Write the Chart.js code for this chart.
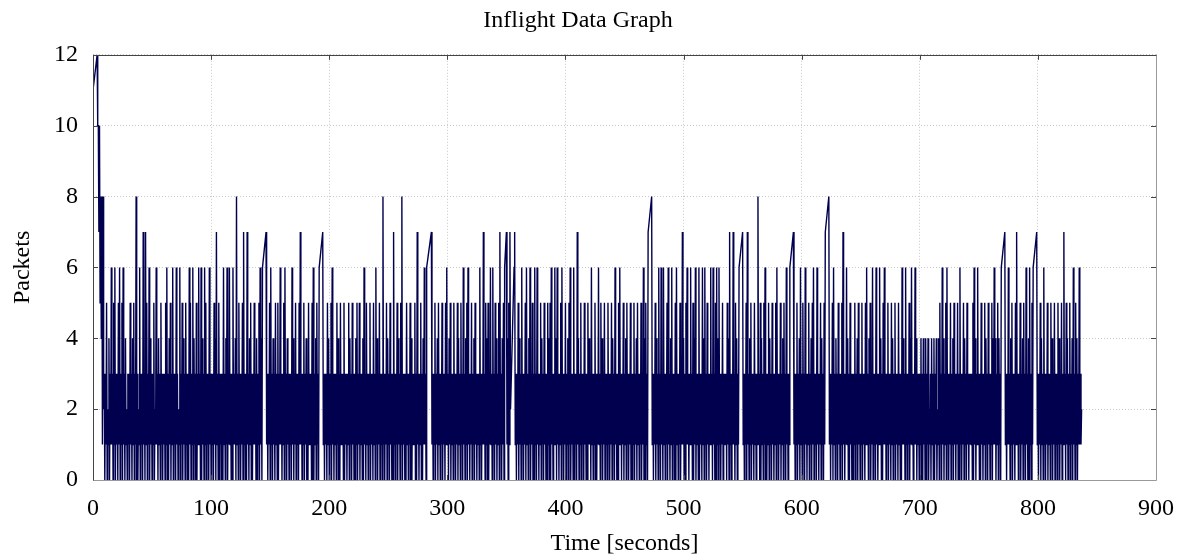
<!DOCTYPE html>
<html>
<head>
<meta charset="utf-8">
<script src="https://cdn.jsdelivr.net/npm/chart.js"></script>
<style>
  body { margin: 0; background: #fff; }
</style>
</head>
<body>
<canvas id="inflight" width="1194" height="558"></canvas>
<script>
/* ===============================
  Inflight data (packets in flight)
  each segment: samples every 0.5 s, one char per sample (hex digit, c = 12)
================================ */
const xTicks = [0, 100, 200, 300, 400, 500, 600, 700, 800, 900];
const yTicks = [0, 2, 4, 6, 8, 10, 12];
const sampleStep = 0.5;

// start time of each recorded segment (seconds); gaps between them are joined by the line
const segStarts = [0, 3.5, 146.5, 194.5, 286.5, 350, 356.5, 473, 550, 593, 623, 772, 799];

const seg0 = 'b';
const seg1 =
  'caa7a5848182' +
  '30315021403161305160' + '31305160315061304120' + '31305130415031803021' +
  '60313071307150316041' + '30315021613041305130' + '31305160304150316031' +
  '30613021603150413051' + '30306150316041305031' + '61306041306150313061' +
  '30313051407130503130' + '30613041603161303061' + '31408130513031507130' +
  '30713041503031513040' + '315061406';
const seg2 =
  '71303150613041305130' + '50316130315061304130' + '31306140315031305171' +
  '30315031403051313050' + '60314051306';
const seg3 =
  '71303130514031506130' + '31305140305131305031' + '30315041305130304150' +
  '31503130406130513031' + '50313051306140315031' + '30813031504130513030' +
  '71303150413051803130' + '30513031504031315030' + '71303150304161306';
const seg4 =
  '71303150314051303150' + '31305161304150313051' + '30315041305130613041' +
  '50613031503140513031' + '30613031713051405031' + '61306130514031507130' +
  '41506';
const seg5 = '71405172';
const seg6 =
  '6' +
  '71303150413061303150' + '61304160315030613061' + '30315041305130305140' +
  '50613031614061303150' + '61303150314051603130' + '60313071403150313051' +
  '30305141306130315030' + '31613051403150313051' + '30315041306130305161' +
  '30315031405130315030' + '31503140513031503160' + '4051307';
const seg7 =
  '81303150413061306130' + '61303150613041603130' + '50613031503171403051' +
  '61303161305041603130' + '60313061406130513031' + '61306130506140613031' +
  '50313130514071303171' + '305140316';
const seg8 =
  '71303150713041503130' + '51303181305041305160' + '30315041305130315061' +
  '30315031405130613031' + '6';
const seg9 =
  '71303150314061305130' + '61303150314051603130' + '613031504130517';
const seg10 =
  '81303150613041305130' + '31507130316140305130' + '30315031405130315031' +
  '30516130415031603130' + '61303161403051613031' + '50313051403150313051' +
  '30306141306130315041' + '61303161403130314030' + '41304031402130413040' +
  '31402140513061403150' + '61303150314051303150' + '30613031504130513031' +
  '31305061403161303051' + '30315041305130315041' + '6140315041306';
const seg11 =
  '71303161304150313051' + '71303150314051306130' + '406130516';
const seg12 =
  '71303150413061303150' + '31305140315031305140' + '31503171305140315031' +
  '40613051403161312';

const segments = [seg0, seg1, seg2, seg3, seg4, seg5, seg6, seg7, seg8, seg9, seg10, seg11, seg12];

const points = [];
segments.forEach((str, s) => {
  str.split('').forEach((ch, i) => {
    points.push({ x: segStarts[s] + i * sampleStep, y: parseInt(ch, 16) });
  });
});

const serif = 'Liberation Serif';

// gnuplot-like frame with inward tick marks
const framePlugin = {
  id: 'frame',
  afterDatasetsDraw(chart) {
    const { ctx, chartArea: a, scales: { x, y } } = chart;
    ctx.save();
    ctx.lineWidth = 1;
    ctx.strokeStyle = '#444';
    ctx.beginPath();
    xTicks.forEach(v => {
      const px = Math.round(x.getPixelForValue(v)) + 0.5;
      ctx.moveTo(px, a.bottom); ctx.lineTo(px, a.bottom - 5);
      ctx.moveTo(px, a.top); ctx.lineTo(px, a.top + 5);
    });
    yTicks.forEach(v => {
      const py = Math.round(y.getPixelForValue(v)) + 0.5;
      ctx.moveTo(a.left, py); ctx.lineTo(a.left + 5, py);
      ctx.moveTo(a.right, py); ctx.lineTo(a.right - 5, py);
    });
    ctx.stroke();

    const l = Math.round(a.left) + 0.5, r = Math.round(a.right) + 0.5;
    const t = Math.round(a.top) + 0.5, b = Math.round(a.bottom) + 0.5;
    ctx.strokeStyle = '#444';
    ctx.beginPath();
    ctx.moveTo(l, b); ctx.lineTo(l, t); ctx.lineTo(r, t);
    ctx.stroke();
    ctx.strokeStyle = '#999';
    ctx.beginPath();
    ctx.moveTo(r, t); ctx.lineTo(r, b); ctx.lineTo(l, b);
    ctx.stroke();
    ctx.restore();
  }
};

new Chart(document.getElementById('inflight'), {
  type: 'line',
  data: {
    datasets: [{
      data: points,
      borderColor: '#00004f',
      borderWidth: 1.4,
      pointRadius: 0,
      tension: 0,
      fill: false
    }]
  },
  options: {
    responsive: false,
    animation: false,
    devicePixelRatio: 1,
    layout: { padding: { left: 0, right: 38, top: 0, bottom: 0 } },
    plugins: {
      legend: { display: false },
      tooltip: { enabled: false },
      title: {
        display: true,
        text: 'Inflight Data Graph',
        color: '#000',
        font: { family: serif, size: 24, weight: 'normal' },
        padding: { top: 6, bottom: 20 }
      }
    },
    scales: {
      x: {
        type: 'linear',
        min: 0, max: 900,
        afterFit: s => { s.height = 78; },
        afterBuildTicks: s => { s.ticks = xTicks.map(v => ({ value: v })); },
        ticks: { font: { family: serif, size: 24 }, color: '#000', padding: 14, maxRotation: 0 },
        grid: { color: '#c8c8c8', drawTicks: false },
        border: { display: false, dash: [1, 2] },
        title: {
          display: true, text: 'Time [seconds]', color: '#000',
          font: { family: serif, size: 24 }, padding: { top: 0, bottom: 0 }
        }
      },
      y: {
        min: 0, max: 12,
        afterFit: s => { s.width = 93; },
        afterBuildTicks: s => { s.ticks = yTicks.map(v => ({ value: v })); },
        ticks: { font: { family: serif, size: 24 }, color: '#000', padding: 15 },
        grid: { color: '#c8c8c8', drawTicks: false },
        border: { display: false, dash: [1, 2] },
        title: {
          display: true, text: 'Packets', color: '#000',
          font: { family: serif, size: 24 }, padding: { top: 8, bottom: 0 }
        }
      }
    }
  },
  plugins: [framePlugin]
});
</script>
</body>
</html>
